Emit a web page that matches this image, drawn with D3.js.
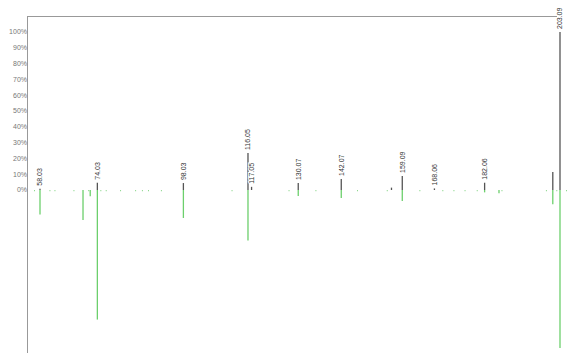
<!DOCTYPE html>
<html><head><meta charset="utf-8">
<script src="https://cdn.jsdelivr.net/npm/d3@7"></script>
<style>body{margin:0;background:#fff}svg{display:block}</style>
</head><body>
<script>
// Mirror spectrum data
const mz        = [58.03, 70.03, 72.04, 74.03, 98.03, 116.05, 117.05, 130.07, 142.07, 156.08, 159.09, 168.06, 182.06, 186.07, 201.08, 203.09];
const topInt    = [0.8,   0,     0,     4.6,   4.4,   23.4,   2.0,    4.4,    7.0,    1.5,    8.9,    1.0,    4.6,    0,      11.4,   100];
const bottomInt = [15.5,  19.0,  4.0,   82.0,  17.7,  32.0,   0,      3.8,    5.0,    0,      7.0,    0,      1.5,    2.0,    9.0,    100];
const labels    = ["58.03","","","74.03","98.03","116.05","117.05","130.07","142.07","","159.09","168.06","182.06","","","203.09"];
const minorMz   = [56.5, 60.8, 62.2, 67.5, 71.6, 75.0, 76.5, 80.5, 84.7, 86.6, 88.3, 91.9, 111.6, 127.5, 135.0, 146.6, 154.9, 164.0, 170.4, 173.5, 176.6, 180.0, 186.9, 199.3, 202.2, 204.9];
const yTicks    = [0,10,20,30,40,50,60,70,80,90,100];

const W = 571, H = 353;
const svg = d3.select("body").append("svg").attr("width", W).attr("height", H);

const x = d3.scaleLinear().domain([58.03, 203.09]).range([40, 560]);
const yUp = d3.scaleLinear().domain([0, 100]).range([190, 32]);
const yDown = d3.scaleLinear().domain([0, 100]).range([190, 348]);

// frame
svg.append("line").attr("x1", 27.5).attr("x2", 27.5).attr("y1", 16).attr("y2", H).attr("stroke", "#999");
svg.append("line").attr("x1", 27.5).attr("x2", 557).attr("y1", 16.5).attr("y2", 16.5).attr("stroke", "#999");

// y tick labels
svg.selectAll("text.yt").data(yTicks).enter().append("text")
  .attr("x", 27).attr("y", d => yUp(d)).attr("dy", "0.35em")
  .attr("text-anchor", "end").attr("font-family", "Liberation Sans, Arial, sans-serif")
  .attr("font-size", 7).attr("fill", "#777").text(d => d + "%");

// minor baseline marks
svg.selectAll("line.mn").data(minorMz).enter().append("line")
  .attr("x1", d => x(d)).attr("x2", d => x(d))
  .attr("y1", yDown(0)).attr("y2", yDown(0.8))
  .attr("stroke", "#8fd88f").attr("stroke-width", 1);

const idx = d3.range(mz.length);

// bottom (green) bars
svg.selectAll("line.bt").data(idx.filter(i => bottomInt[i] > 0)).enter().append("line")
  .attr("x1", i => x(mz[i])).attr("x2", i => x(mz[i]))
  .attr("y1", yDown(0)).attr("y2", i => yDown(bottomInt[i]))
  .attr("stroke", "#6ccf6c").attr("stroke-width", 1.3);

// top (grey) bars
svg.selectAll("line.tp").data(idx.filter(i => topInt[i] > 0)).enter().append("line")
  .attr("x1", i => x(mz[i])).attr("x2", i => x(mz[i]))
  .attr("y1", yUp(0)).attr("y2", i => yUp(topInt[i]))
  .attr("stroke", "#555").attr("stroke-width", 1.3);

// peak labels
svg.selectAll("text.pl").data(idx.filter(i => labels[i])).enter().append("text")
  .attr("transform", i => `translate(${x(mz[i])},${yUp(topInt[i]) - 3}) rotate(-90)`)
  .attr("dy", "0.35em").attr("text-anchor", "start")
  .attr("font-family", "Liberation Sans, Arial, sans-serif")
  .attr("font-size", 7).attr("fill", "#333").attr("stroke", "#fff").attr("stroke-width", 2)
  .attr("paint-order", "stroke")
  .text(i => labels[i]);
</script>
</body></html>
